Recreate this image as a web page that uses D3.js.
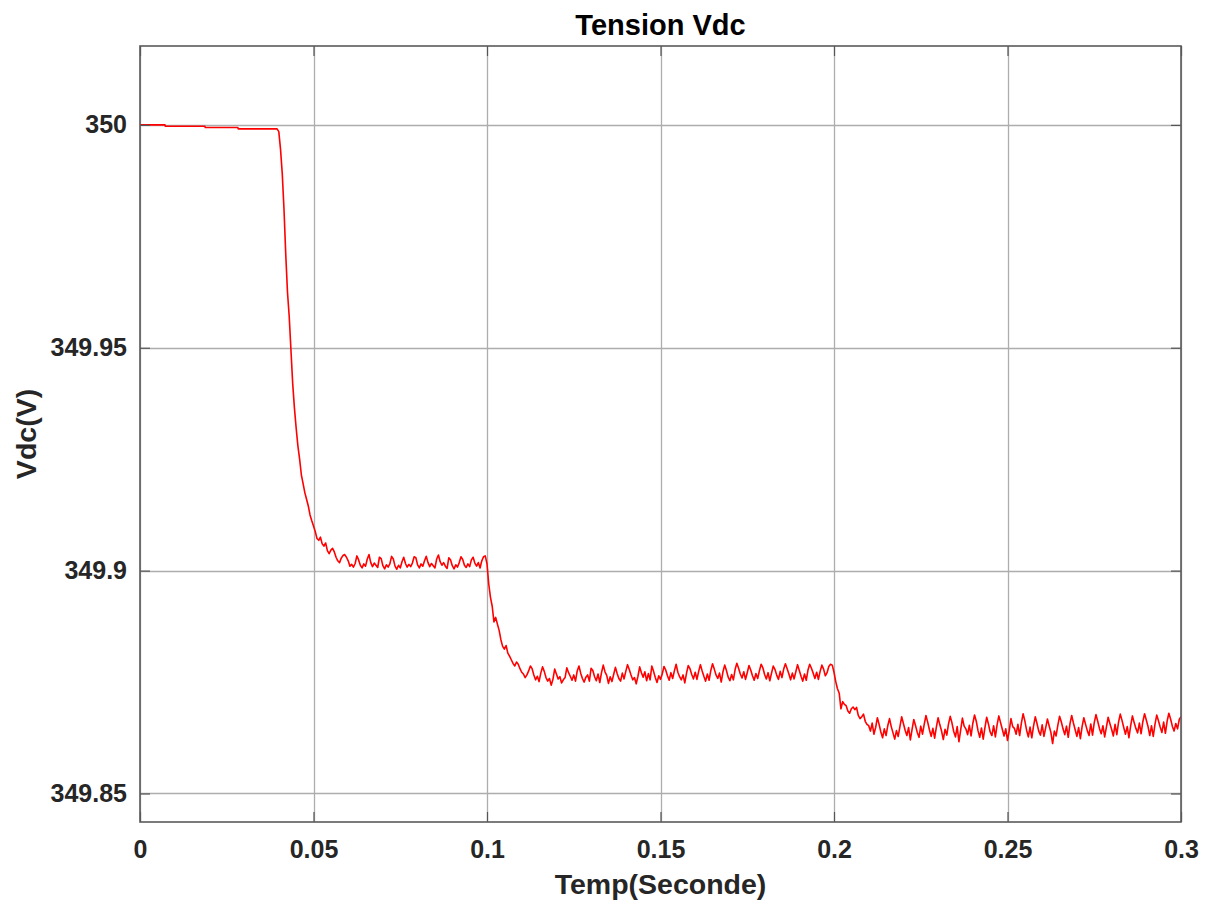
<!DOCTYPE html>
<html>
<head>
<meta charset="utf-8">
<script src="https://cdn.jsdelivr.net/npm/d3@7/dist/d3.min.js"></script>
<style>
  body { margin: 0; background: #fff; }
  text { font-family: "Liberation Sans", Arial, Helvetica, sans-serif; }
</style>
</head>
<body>
<div id="chart"></div>
<script>
var W = 1211, H = 906;
var margin = {left: 140, top: 46, right: 30, bottom: 84};

var titleText = "Tension Vdc";
var xLabelText = "Temp(Seconde)";
var yLabelText = "Vdc(V)";

var xDomain = [0, 0.3];
var yDomain = [349.8436, 350.0177];
var xTicks = [0, 0.05, 0.1, 0.15, 0.2, 0.25, 0.3];
var xTickLabels = ["0", "0.05", "0.1", "0.15", "0.2", "0.25", "0.3"];
var yTicks = [349.85, 349.9, 349.95, 350];
var yTickLabels = ["349.85", "349.9", "349.95", "350"];

// flat start, read as steps
var startTime = [0, 0.0072, 0.0073, 0.0187, 0.0188, 0.0282, 0.0283, 0.0395];
var startVdc = [350.0000, 350.0000, 349.9997, 349.9997, 349.9994, 349.9994, 349.9991, 349.9991];

// after 0.04 the samples are every 0.5 ms
var sampleStart = 0.04, sampleStep = 0.0005;

var dropA = [349.9985, 349.9945, 349.9890, 349.9810, 349.9710, 349.9625, 349.9570, 349.9495, 349.9420, 349.9365,
  349.9320, 349.9280, 349.9250, 349.9215, 349.9195, 349.9175, 349.9160, 349.9145, 349.9125, 349.9112,
  349.9100, 349.9088, 349.9072, 349.9068, 349.9075, 349.9060, 349.9055, 349.9062, 349.9045, 349.9038,
  349.9046, 349.9050, 349.9042, 349.9030, 349.9022, 349.9018, 349.9028, 349.9034, 349.9036, 349.9030];

var stageA = [349.9022, 349.9010, 349.9014, 349.9008, 349.9016, 349.9033, 349.9024, 349.9012, 349.9006, 349.9015,
  349.9010, 349.9026, 349.9036, 349.9018, 349.9009, 349.9017, 349.9012, 349.9007, 349.9030, 349.9027,
  349.9011, 349.9004, 349.9013, 349.9008, 349.9015, 349.9032, 349.9026, 349.9010, 349.9003, 349.9012,
  349.9006, 349.9020, 349.9030, 349.9016, 349.9008, 349.9014, 349.9009, 349.9017, 349.9031, 349.9029,
  349.9013, 349.9006, 349.9015, 349.9010, 349.9022, 349.9032, 349.9018, 349.9009, 349.9016, 349.9011,
  349.9006, 349.9026, 349.9035, 349.9020, 349.9012, 349.9018, 349.9010, 349.9005, 349.9029, 349.9024,
  349.9011, 349.9004, 349.9013, 349.9008, 349.9018, 349.9031, 349.9025, 349.9012, 349.9007, 349.9015,
  349.9009, 349.9024, 349.9030, 349.9017, 349.9010, 349.9018, 349.9006, 349.9022, 349.9031, 349.9033];

var dropB = [349.9015, 349.8970, 349.8940, 349.8920, 349.8885, 349.8895, 349.8880, 349.8866, 349.8845, 349.8830,
  349.8824, 349.8832, 349.8815, 349.8808, 349.8800, 349.8792, 349.8786, 349.8795, 349.8790, 349.8780,
  349.8772, 349.8768, 349.8760, 349.8766, 349.8775, 349.8786, 349.8780];

var stageB = [349.8766, 349.8755, 349.8763, 349.8751, 349.8770, 349.8784, 349.8774,
  349.8760, 349.8752, 349.8758, 349.8743, 349.8756, 349.8779, 349.8768,
  349.8757, 349.8762, 349.8748, 349.8755, 349.8760, 349.8782, 349.8771,
  349.8763, 349.8754, 349.8766, 349.8752, 349.8775, 349.8786, 349.8770,
  349.8758, 349.8750, 349.8761, 349.8766, 349.8752, 349.8781, 349.8776,
  349.8762, 349.8753, 349.8768, 349.8749, 349.8771, 349.8788, 349.8773,
  349.8765, 349.8747, 349.8762, 349.8751, 349.8767, 349.8783, 349.8769,
  349.8758, 349.8752, 349.8770, 349.8757, 349.8774, 349.8789, 349.8778,
  349.8766, 349.8755, 349.8760, 349.8746, 349.8763, 349.8784, 349.8771,
  349.8761, 349.8773, 349.8753, 349.8769, 349.8755, 349.8786, 349.8774,
  349.8760, 349.8749, 349.8764, 349.8756, 349.8768, 349.8785, 349.8777,
  349.8764, 349.8754, 349.8771, 349.8758, 349.8775, 349.8790, 349.8772,
  349.8762, 349.8755, 349.8766, 349.8748, 349.8770, 349.8787, 349.8780,
  349.8767, 349.8757, 349.8772, 349.8756, 349.8774, 349.8789, 349.8775,
  349.8763, 349.8752, 349.8768, 349.8754, 349.8776, 349.8791, 349.8779,
  349.8766, 349.8758, 349.8770, 349.8750, 349.8773, 349.8788, 349.8776,
  349.8761, 349.8753, 349.8767, 349.8755, 349.8778, 349.8792, 349.8781,
  349.8768, 349.8759, 349.8773, 349.8756, 349.8771, 349.8787, 349.8777,
  349.8764, 349.8754, 349.8769, 349.8758, 349.8775, 349.8790, 349.8782,
  349.8767, 349.8757, 349.8771, 349.8753, 349.8770, 349.8786, 349.8778,
  349.8765, 349.8756, 349.8774, 349.8760, 349.8779, 349.8791, 349.8780,
  349.8768, 349.8755, 349.8770, 349.8757, 349.8773, 349.8789, 349.8776,
  349.8763, 349.8752, 349.8768, 349.8754, 349.8777, 349.8790, 349.8781,
  349.8770, 349.8758, 349.8772, 349.8756, 349.8774, 349.8788, 349.8779,
  349.8764, 349.8771, 349.8785, 349.8790];

var dropC = [349.8788, 349.8772, 349.8751, 349.8735, 349.8725, 349.8690, 349.8706, 349.8700, 349.8697, 349.8685,
  349.8680, 349.8690, 349.8694, 349.8688, 349.8693, 349.8675, 349.8668, 349.8672, 349.8678, 349.8662,
  349.8655];

var stageC = [349.8652, 349.8640, 349.8658, 349.8633, 349.8648, 349.8670, 349.8655,
  349.8638, 349.8625, 349.8645, 349.8630, 349.8652, 349.8668, 349.8650,
  349.8636, 349.8622, 349.8641, 349.8628, 349.8650, 349.8672, 349.8657,
  349.8642, 349.8630, 349.8648, 349.8620, 349.8644, 349.8666, 349.8652,
  349.8637, 349.8626, 349.8651, 349.8633, 349.8655, 349.8675, 349.8660,
  349.8643, 349.8628, 349.8646, 349.8624, 349.8649, 349.8670, 349.8654,
  349.8640, 349.8621, 349.8644, 349.8631, 349.8656, 349.8673, 349.8658,
  349.8639, 349.8627, 349.8650, 349.8616, 349.8642, 349.8669, 349.8651,
  349.8645, 349.8632, 349.8653, 349.8629, 349.8657, 349.8676, 349.8662,
  349.8641, 349.8626, 349.8647, 349.8622, 349.8648, 349.8671, 349.8656,
  349.8638, 349.8630, 349.8652, 349.8627, 349.8654, 349.8674, 349.8659,
  349.8644, 349.8629, 349.8645, 349.8619, 349.8641, 349.8668, 349.8650,
  349.8646, 349.8633, 349.8655, 349.8630, 349.8658, 349.8679, 349.8663,
  349.8642, 349.8627, 349.8649, 349.8625, 349.8651, 349.8672, 349.8657,
  349.8640, 349.8631, 349.8654, 349.8628, 349.8647, 349.8667, 349.8652,
  349.8637, 349.8612, 349.8640, 349.8629, 349.8653, 349.8673, 349.8661,
  349.8645, 349.8632, 349.8651, 349.8626, 349.8656, 349.8675, 349.8658,
  349.8643, 349.8628, 349.8648, 349.8623, 349.8650, 349.8670, 349.8655,
  349.8641, 349.8630, 349.8656, 349.8631, 349.8659, 349.8677, 349.8662,
  349.8646, 349.8634, 349.8652, 349.8627, 349.8649, 349.8671, 349.8657,
  349.8644, 349.8629, 349.8655, 349.8632, 349.8660, 349.8678, 349.8664,
  349.8648, 349.8633, 349.8650, 349.8625, 349.8652, 349.8674, 349.8659,
  349.8646, 349.8636, 349.8658, 349.8634, 349.8661, 349.8679, 349.8665,
  349.8650, 349.8630, 349.8652, 349.8628, 349.8655, 349.8676, 349.8663,
  349.8649, 349.8637, 349.8660, 349.8635, 349.8662, 349.8680, 349.8667,
  349.8651, 349.8640, 349.8657, 349.8645, 349.8666, 349.8672];

var svg, x, y;
var w = W - margin.left - margin.right, h = H - margin.top - margin.bottom;

function buildPoints() {
  var pts = startTime.map(function (t, i) { return {t: t, v: startVdc[i]}; });
  var samples = [].concat(dropA, stageA, dropB, stageB, dropC, stageC);
  samples.forEach(function (v, i) {
    pts.push({t: sampleStart + i * sampleStep, v: v});
  });
  return pts;
}

function draw() {
  svg = d3.select("#chart").append("svg").attr("width", W).attr("height", H);
  svg.append("rect").attr("width", W).attr("height", H).attr("fill", "#fff");

  x = d3.scaleLinear().domain(xDomain).range([margin.left, margin.left + w]);
  y = d3.scaleLinear().domain(yDomain).range([margin.top + h, margin.top]);

  // grid
  var grid = svg.append("g").attr("class", "grid");
  grid.selectAll(".gx").data(xTicks).enter().append("line")
    .attr("x1", function (d) { return Math.round(x(d)) + 0.5; })
    .attr("x2", function (d) { return Math.round(x(d)) + 0.5; })
    .attr("y1", margin.top).attr("y2", margin.top + h)
    .attr("stroke", "#adadad").attr("stroke-width", 1.3);
  grid.selectAll(".gy").data(yTicks).enter().append("line")
    .attr("y1", function (d) { return Math.round(y(d)) + 0.5; })
    .attr("y2", function (d) { return Math.round(y(d)) + 0.5; })
    .attr("x1", margin.left).attr("x2", margin.left + w)
    .attr("stroke", "#adadad").attr("stroke-width", 1.3);

  // data line
  svg.append("clipPath").attr("id", "clip").append("rect")
    .attr("x", margin.left).attr("y", margin.top).attr("width", w).attr("height", h);
  var line = d3.line().x(function (d) { return x(d.t); }).y(function (d) { return y(d.v); });
  svg.append("path").datum(buildPoints())
    .attr("clip-path", "url(#clip)")
    .attr("fill", "none").attr("stroke", "#ff0000").attr("stroke-width", 1.6)
    .attr("stroke-linejoin", "round")
    .attr("d", line);

  // axes with inward ticks
  var fmtX = function (d, i) { return xTickLabels[i]; };
  var fmtY = function (d, i) { return yTickLabels[i]; };
  var axB = svg.append("g").attr("transform", "translate(0," + (margin.top + h) + ")")
    .call(d3.axisBottom(x).tickValues(xTicks).tickFormat(fmtX).tickSizeInner(-10).tickSizeOuter(0).tickPadding(18));
  var axT = svg.append("g").attr("transform", "translate(0," + margin.top + ")")
    .call(d3.axisTop(x).tickValues(xTicks).tickFormat("").tickSizeInner(-10).tickSizeOuter(0));
  var axL = svg.append("g").attr("transform", "translate(" + margin.left + ",0)")
    .call(d3.axisLeft(y).tickValues(yTicks).tickFormat(fmtY).tickSizeInner(-10).tickSizeOuter(0).tickPadding(13));
  var axR = svg.append("g").attr("transform", "translate(" + (margin.left + w) + ",0)")
    .call(d3.axisRight(y).tickValues(yTicks).tickFormat("").tickSizeInner(-10).tickSizeOuter(0));

  [axB, axT, axL, axR].forEach(function (g) {
    g.select(".domain").remove();
    g.selectAll(".tick line").attr("stroke", "#555").attr("stroke-width", 1.2);
    g.selectAll(".tick text").attr("fill", "#262626")
      .style("font-size", "25px").style("font-weight", "bold")
      .style("font-family", "'Liberation Sans', Arial, sans-serif");
  });

  // box
  svg.append("rect").attr("x", margin.left).attr("y", margin.top)
    .attr("width", w).attr("height", h)
    .attr("fill", "none").attr("stroke", "#5a5a5a").attr("stroke-width", 1.6);

  // texts
  svg.append("text").attr("x", margin.left + w / 2).attr("y", 35)
    .attr("text-anchor", "middle").attr("fill", "#000")
    .style("font-size", "29px").style("font-weight", "bold").text(titleText);
  svg.append("text").attr("x", margin.left + w / 2).attr("y", 894)
    .attr("text-anchor", "middle").attr("fill", "#262626")
    .style("font-size", "28.5px").style("font-weight", "bold").text(xLabelText);
  svg.append("text").attr("transform", "translate(36," + (margin.top + h / 2) + ") rotate(-90)")
    .attr("text-anchor", "middle").attr("fill", "#262626")
    .style("font-size", "28.5px").style("font-weight", "bold").text(yLabelText);
}

draw();
</script>
</body>
</html>
